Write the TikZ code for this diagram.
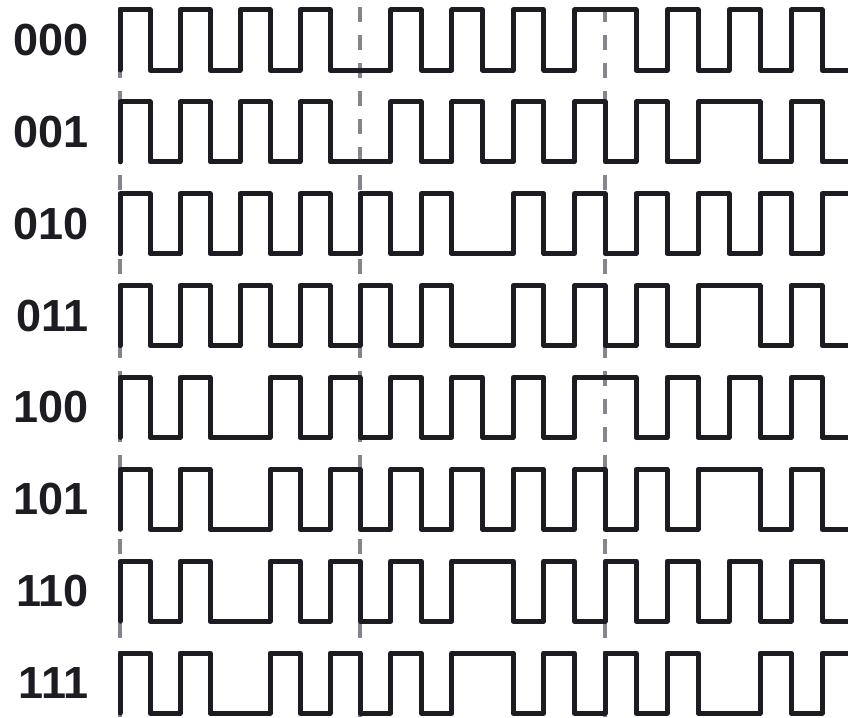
\documentclass[tikz,border=0pt]{standalone}
\usepackage{fontspec}
\setmainfont{Liberation Sans}
\definecolor{wavecol}{HTML}{1C1C22}
\definecolor{guidecol}{HTML}{85858C}
\begin{document}
\begin{tikzpicture}[x=1pt,y=-1pt,
  wave/.style={line width=5pt, draw=wavecol, line cap=round, line join=round},
  guide/.style={line width=4.2pt, draw=guidecol, dash pattern=on 15pt off 13pt},
  lbl/.style={anchor=east, font=\fontsize{45}{45}\selectfont\bfseries, text=wavecol, inner sep=0pt},
  declare function={X(\k)=(\k<=8)*(120+30*\k)+(\k>8)*(\k<=16)*(360+30.625*(\k-8))+(\k>16)*(605+31*(\k-16));}
]
\useasboundingbox (0,0) rectangle (848,717);
\clip (0,0) rectangle (848,717);
% dashed guide lines
\foreach \gx/\gn in {120/ga,360/gb,605/gc}{
  \coordinate (\gn top) at (\gx,7);
  \coordinate (\gn bot) at (\gx,717);
  \draw[guide] (\gn top) -- (\gn bot);
}
% waveforms
\foreach \r/\name/\seq in {
  0/000/{1,0,1,0,1,0,1,0,0,1,0,1,0,1,0,1,1,0,1,0,1,0,1,0},
  1/001/{1,0,1,0,1,0,1,0,0,1,0,1,0,1,0,1,0,1,0,1,1,0,1,0},
  2/010/{1,0,1,0,1,0,1,0,1,0,1,0,0,1,0,1,0,1,0,1,0,1,0,1},
  3/011/{1,0,1,0,1,0,1,0,1,0,1,0,0,1,0,1,0,1,0,1,1,0,1,0},
  4/100/{1,0,1,0,0,1,0,1,0,1,0,1,0,1,0,1,1,0,1,0,1,0,1,0},
  5/101/{1,0,1,0,0,1,0,1,0,1,0,1,0,1,0,1,0,1,0,1,1,0,1,0},
  6/110/{1,0,1,0,0,1,0,1,0,1,0,1,1,0,1,0,1,0,1,0,1,0,1,0},
  7/111/{1,0,1,0,0,1,0,1,0,1,0,1,1,0,1,0,1,0,1,0,0,1,0,1}}{
  \pgfmathsetmacro{\ytop}{10+91.86*\r}
  \pgfmathsetmacro{\ybot}{\ytop+60}
  \pgfmathsetmacro{\ymid}{\ytop+30}
  \node[lbl] (lab\name) at (89,\ymid) {\name};
  \draw[wave] (120,\ybot)
    foreach \l [count=\c] in \seq {
      -- ({X(\c-1)},{\ybot-60*\l}) -- ({X(\c)},{\ybot-60*\l})
    };
}
\end{tikzpicture}
\end{document}
